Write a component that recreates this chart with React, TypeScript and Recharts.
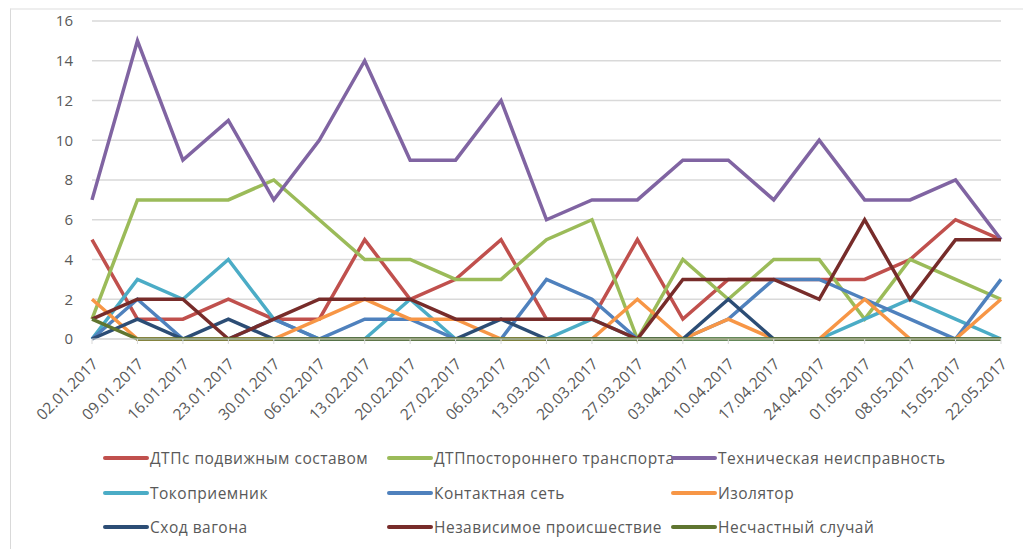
import React from 'react';
import { LineChart, Line, XAxis, YAxis, CartesianGrid } from 'recharts';

const categories = ['02.01.2017','09.01.2017','16.01.2017','23.01.2017','30.01.2017','06.02.2017','13.02.2017','20.02.2017','27.02.2017','06.03.2017','13.03.2017','20.03.2017','27.03.2017','03.04.2017','10.04.2017','17.04.2017','24.04.2017','01.05.2017','08.05.2017','15.05.2017','22.05.2017'];

const dtpRolling = [5,1,1,2,1,1,5,2,3,5,1,1,5,1,3,3,3,3,4,6,5];
const dtpOther = [1,7,7,7,8,6,4,4,3,3,5,6,0,4,2,4,4,1,4,3,2];
const technical = [7,15,9,11,7,10,14,9,9,12,6,7,7,9,9,7,10,7,7,8,5];
const pantograph = [0,3,2,4,1,0,0,2,0,0,0,1,0,0,0,0,0,1,2,1,0];
const contactNet = [0,2,0,0,1,0,1,1,0,0,3,2,0,0,1,3,3,2,1,0,3];
const insulator = [2,0,0,0,0,1,2,1,1,0,0,0,2,0,1,0,0,2,0,0,2];
const derailment = [0,1,0,1,0,0,0,0,0,1,0,0,0,0,2,0,0,0,0,0,0];
const independent = [1,2,2,0,1,2,2,2,1,1,1,1,0,3,3,3,2,6,2,5,5];
const accident = [1,0,0,0,0,0,0,0,0,0,0,0,0,0,0,0,0,0,0,0,0];

const yTicks = [0,2,4,6,8,10,12,14,16];

const seriesDefs = [
  { key: 'dtpRolling', name: 'ДТПс подвижным составом', color: '#C0504D', values: dtpRolling },
  { key: 'dtpOther', name: 'ДТПпостороннего транспорта', color: '#9BBB59', values: dtpOther },
  { key: 'technical', name: 'Техническая неисправность', color: '#8064A2', values: technical },
  { key: 'pantograph', name: 'Токоприемник', color: '#4BACC6', values: pantograph },
  { key: 'contactNet', name: 'Контактная сеть', color: '#4F81BD', values: contactNet },
  { key: 'insulator', name: 'Изолятор', color: '#F79646', values: insulator },
  { key: 'derailment', name: 'Сход вагона', color: '#2C4D75', values: derailment },
  { key: 'independent', name: 'Независимое происшествие', color: '#772C2A', values: independent },
  { key: 'accident', name: 'Несчастный случай', color: '#5F7530', values: accident },
];

const data = categories.map((c, i) => {
  const row: Record<string, any> = { date: c };
  seriesDefs.forEach(s => { row[s.key] = s.values[i]; });
  return row;
});

const FONT = 'Open Sans, Liberation Sans, sans-serif';

const XTick = (props: any) => {
  const { x, y, payload } = props;
  return (
    <g transform={`translate(${x},${y})`}>
      <text x={7} y={19} textAnchor="end" transform="rotate(-45 7 19)" fill="#595959" fontSize={15.5} fontFamily={FONT}>
        {payload.value}
      </text>
    </g>
  );
};

const LegendBlock = () => (
  <div style={{ position: 'absolute', left: 103, top: 441, display: 'grid', gridTemplateColumns: '284px 284px 284px', fontFamily: FONT, fontSize: 15.5, letterSpacing: 0.5, color: '#595959' }}>
    {seriesDefs.map(s => (
      <div key={s.key} style={{ display: 'flex', alignItems: 'center', height: 34.5, whiteSpace: 'nowrap' }}>
        <svg width={47} height={8} style={{ flex: 'none' }}>
          <line x1={2} y1={4} x2={44} y2={4} stroke={s.color} strokeWidth={4} strokeLinecap="round" />
        </svg>
        <span>{s.name}</span>
      </div>
    ))}
  </div>
);

export default function App() {
  return (
    <div style={{ position: 'absolute', left: 0, top: 0, width: 1027, height: 549, background: '#fff', overflow: 'hidden' }}>
      <div style={{ position: 'absolute', left: 10, top: 8, width: 1012, height: 600, borderLeft: '1px solid #d9d9d9', borderTop: '2px solid #eeeeee' }} />
      <div style={{ position: 'absolute', left: 0, top: 0 }}>
        <LineChart width={1027} height={549} data={data} margin={{ top: 21, right: 26, bottom: 110, left: 32 }}>
          <CartesianGrid vertical={false} stroke="#d9d9d9" strokeWidth={1.5} />
          <XAxis dataKey="date" interval={0} tick={<XTick />} tickLine={{ stroke: '#d9d9d9' }} tickSize={5} axisLine={{ stroke: '#d9d9d9' }} height={100} />
          <YAxis domain={[0, 16]} ticks={yTicks} width={60} axisLine={false} tickLine={false} tickSize={0} tickMargin={19} tick={{ fill: '#595959', fontSize: 15, fontFamily: FONT }} />
          {seriesDefs.map(s => (
            <Line key={s.key} type="linear" dataKey={s.key} name={s.name} stroke={s.color} strokeWidth={3.5} dot={false} isAnimationActive={false} />
          ))}
        </LineChart>
      </div>
      <LegendBlock />
    </div>
  );
}
